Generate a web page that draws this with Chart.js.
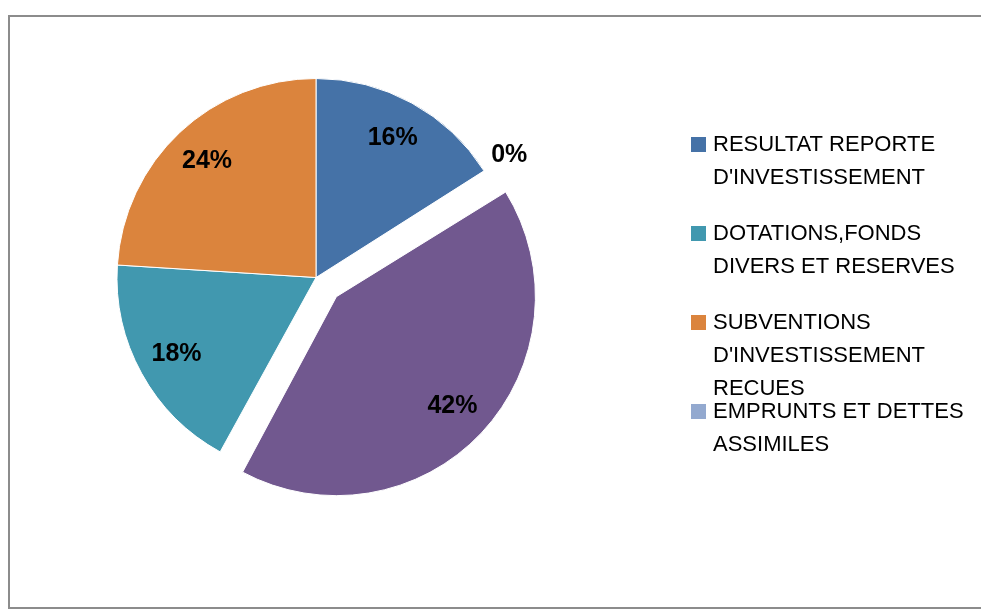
<!DOCTYPE html>
<html>
<head>
<meta charset="utf-8">
<script src="https://cdn.jsdelivr.net/npm/chart.js@4"></script>
<style>
html, body { margin: 0; padding: 0; background: #fff; }
#wrap { position: relative; width: 981px; height: 610px; overflow: hidden; }
#frame { position: absolute; left: 8px; top: 15px; width: 976px; height: 594px; box-sizing: border-box; border: 2px solid #8c8c8c; }
canvas { position: absolute; left: 0; top: 0; }
</style>
</head>
<body>
<div id="wrap">
  <div id="frame"></div>
  <canvas id="pie-chart" width="981" height="610"></canvas>
</div>
<script>
// slices, clockwise from 12 o'clock
var categories = [
    "RESULTAT REPORTE D'INVESTISSEMENT",
    'EMPRUNTS ET DETTES ASSIMILES',
    'AUTRES',
    'DOTATIONS,FONDS DIVERS ET RESERVES',
    "SUBVENTIONS D'INVESTISSEMENT RECUES"
];
var values = [16, 0, 42, 18, 24];
var colors = ['#4572a7', '#93a9cf', '#71588f', '#4198af', '#db843d'];
// legend shows only these, in this order
var legendOrder = [0, 3, 4, 1];

var PIE_RADIUS = 199;
var LEGEND_X = 691;
var LEGEND_TOP = 145;
var LEGEND_STEP = 89;
var LINE_H = 33;
var LEGEND_WRAP = 262;

function wrapText(ctx, text, maxW) {
    var words = text.split(' ');
    var lines = [];
    var cur = '';
    words.forEach(function (w) {
        var test = cur ? cur + ' ' + w : w;
        if (cur && ctx.measureText(test).width > maxW) {
            lines.push(cur);
            cur = w;
        } else {
            cur = test;
        }
    });
    if (cur) lines.push(cur);
    return lines;
}

// keep the exploded slice the same radius as the others
var explodeFix = {
    id: 'explodeFix',
    afterDatasetsUpdate: function (chart) {
        chart.getDatasetMeta(0).data.forEach(function (arc) {
            var off = (arc.options.offset || 0) / 4;
            if (!off) return;
            arc.outerRadius -= off * (1 - Math.sin(Math.min(Math.PI, arc.circumference)));
        });
    }
};

var pctLabels = {
    id: 'pctLabels',
    afterDatasetsDraw: function (chart) {
        var ctx = chart.ctx;
        var total = values.reduce(function (a, b) { return a + b; }, 0);
        ctx.save();
        ctx.font = 'bold 25px "Liberation Sans", Arial, sans-serif';
        ctx.fillStyle = '#000';
        ctx.textAlign = 'center';
        ctx.textBaseline = 'middle';
        chart.getDatasetMeta(0).data.forEach(function (arc, i) {
            var mid = (arc.startAngle + arc.endAngle) / 2;
            var shift = (arc.options.offset || 0) / 4;
            var r = values[i] === 0 ? PIE_RADIUS * 1.15 : PIE_RADIUS * 0.8;
            var x = arc.x + Math.cos(mid) * (r + shift);
            var y = arc.y + Math.sin(mid) * (r + shift);
            ctx.fillText(Math.round(values[i] / total * 100) + '%', x, y);
        });
        ctx.restore();
    }
};

var sideLegend = {
    id: 'sideLegend',
    afterDraw: function (chart) {
        var ctx = chart.ctx;
        ctx.save();
        ctx.font = '22px "Liberation Sans", Arial, sans-serif';
        ctx.textBaseline = 'middle';
        ctx.textAlign = 'left';
        legendOrder.forEach(function (idx, k) {
            var y0 = LEGEND_TOP + k * LEGEND_STEP;
            ctx.fillStyle = colors[idx];
            ctx.fillRect(LEGEND_X, y0 - 8, 15, 15);
            ctx.fillStyle = '#000';
            wrapText(ctx, categories[idx], LEGEND_WRAP).forEach(function (line, j) {
                ctx.fillText(line, LEGEND_X + 22, y0 + j * LINE_H);
            });
        });
        ctx.restore();
    }
};

var ctx = document.getElementById('pie-chart').getContext('2d');
var myChart = new Chart(ctx, {
    type: 'pie',
    data: {
        labels: categories,
        datasets: [{
            data: values,
            backgroundColor: colors,
            borderColor: '#ffffff',
            borderWidth: 1,
            offset: [0, 0, 112, 0, 0]
        }]
    },
    options: {
        responsive: false,
        animation: false,
        radius: PIE_RADIUS,
        layout: {
            padding: { left: 0, top: 0, right: 349, bottom: 55 }
        },
        plugins: {
            legend: { display: false },
            tooltip: { enabled: false }
        }
    },
    plugins: [explodeFix, pctLabels, sideLegend]
});
</script>
</body>
</html>
